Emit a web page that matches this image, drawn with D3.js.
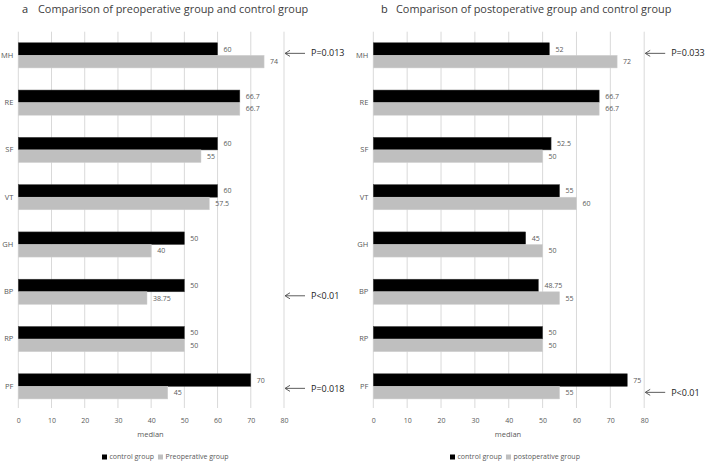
<!DOCTYPE html>
<html><head><meta charset="utf-8">
<script src="https://cdn.jsdelivr.net/npm/d3@7"></script>
<style>html,body{margin:0;padding:0;background:#fff;}svg{display:block;font-family:"Open Sans",sans-serif;}</style>
</head><body>
<svg id="c" width="709" height="463"></svg>
<script>
const categories = ["MH","RE","SF","VT","GH","BP","RP","PF"];
const xTicks = [0,10,20,30,40,50,60,70,80];
const leftControl = [60,66.7,60,60,50,50,50,70];
const leftPreop = [74,66.7,55,57.5,40,38.75,50,45];
const rightControl = [52,66.7,52.5,55,45,48.75,50,75];
const rightPostop = [72,66.7,50,60,50,55,50,55];
const leftAnnotations = [{cat:"MH",text:"P=0.013"},{cat:"BP",text:"P<0.01"},{cat:"PF",text:"P=0.018"}];
const rightAnnotations = [{cat:"MH",text:"P=0.033"},{cat:"PF",text:"P<0.01"}];
const panels = [
  {letter:"a", title:"Comparison of preoperative group and control group", s1:"control group", s2:"Preoperative group", v1:leftControl, v2:leftPreop, ann:leftAnnotations},
  {letter:"b", title:"Comparison of postoperative group and control group", s1:"control group", s2:"postoperative group", v1:rightControl, v2:rightPostop, ann:rightAnnotations}
];
const layout = [
  {x0:18.3, x1:284, letterX:22, titleX:38, legendX:102, medianX:150.5, annDy:{MH:-2,BP:4,PF:2}},
  {x0:373.3, x1:644.2, letterX:381, titleX:396, legendX:450, medianX:508, annDy:{MH:-2,PF:6}}
];
const svg = d3.select("#c");
const plotTop = 31.7, plotBottom = 408;
panels.forEach((p,i)=>{
  const L = layout[i];
  const g = svg.append("g");
  const x = d3.scaleLinear().domain([0,80]).range([L.x0,L.x1]);
  const y = d3.scaleBand().domain(categories).range([plotTop,410]).paddingInner(0.468).paddingOuter(0.234);
  const sub = d3.scaleBand().domain(["s1","s2"]).range([0,y.bandwidth()]);
  g.selectAll("line.grid").data(xTicks).join("line")
    .attr("x1",d=>x(d)).attr("x2",d=>x(d)).attr("y1",plotTop).attr("y2",plotBottom)
    .attr("stroke","#d9d9d9").attr("stroke-width",1);
  const xa = d3.axisBottom(x).tickValues(xTicks).tickSize(0).tickPadding(0);
  const ax = g.append("g").attr("transform",`translate(0,${plotBottom+10})`).call(xa);
  ax.select(".domain").remove();
  ax.selectAll("text").attr("fill","#595959").attr("font-size",7).attr("font-family","Open Sans, sans-serif");
  const ya = d3.axisLeft(y).tickSize(0).tickPadding(5);
  const ay = g.append("g").attr("transform",`translate(${L.x0},0)`).call(ya);
  ay.select(".domain").remove();
  ay.selectAll("text").attr("fill","#595959").attr("font-size",7.5).attr("font-family","Open Sans, sans-serif");
  const rows = categories.map((c,k)=>({c, v1:p.v1[k], v2:p.v2[k]}));
  const series = [{key:"s1", fill:"#000000", val:d=>d.v1},{key:"s2", fill:"#bfbfbf", val:d=>d.v2}];
  series.forEach(s=>{
    g.selectAll(null).data(rows).join("rect")
      .attr("x",x(0)).attr("y",d=>y(d.c)+sub(s.key))
      .attr("width",d=>x(s.val(d))-x(0)).attr("height",sub.bandwidth())
      .attr("fill",s.fill).attr("stroke", s.key==="s1" ? "#404040" : "#d0d0d0").attr("stroke-width",0.5);
    g.selectAll(null).data(rows).join("text")
      .attr("x",d=>x(s.val(d))+6).attr("y",d=>y(d.c)+sub(s.key)+sub.bandwidth()/2)
      .attr("dy","0.35em").attr("font-size",7).attr("fill","#595959")
      .text(d=>s.val(d));
  });
  p.ann.forEach(a=>{
    const yy = y(a.cat)+y.bandwidth()/2 + (L.annDy[a.cat]||0);
    const ax0 = x(80)+1, ax1 = ax0+20;
    g.append("line").attr("x1",ax0+1).attr("x2",ax1).attr("y1",yy).attr("y2",yy).attr("stroke","#333").attr("stroke-width",0.8);
    g.append("path").attr("d",`M${ax0+5},${yy-3}L${ax0},${yy}L${ax0+5},${yy+3}`).attr("fill","none").attr("stroke","#333").attr("stroke-width",0.8);
    g.append("text").attr("x",ax1+6).attr("y",yy).attr("dy","0.35em").attr("font-size",9).attr("fill","#222").text(a.text);
  });
  g.append("text").attr("x",L.letterX).attr("y",9).attr("dy","0.35em").attr("font-size",11).attr("fill","#333").text(p.letter);
  g.append("text").attr("x",L.titleX).attr("y",9).attr("dy","0.35em").attr("font-size",10.9).attr("fill","#404040").text(p.title);
  g.append("text").attr("x",L.medianX).attr("y",434).attr("dy","0.35em").attr("text-anchor","middle").attr("font-size",7.5).attr("fill","#595959").text("median");
  const lg = g.append("g").attr("transform",`translate(${L.legendX},457)`);
  lg.append("rect").attr("x",0).attr("y",-2.5).attr("width",5).attr("height",5).attr("fill","#000");
  const t1 = lg.append("text").attr("x",7.5).attr("y",0).attr("dy","0.35em").attr("font-size",7).attr("fill","#595959").text(p.s1);
  const w1 = t1.node().getComputedTextLength();
  lg.append("rect").attr("x",7.5+w1+4).attr("y",-2.5).attr("width",5).attr("height",5).attr("fill","#bfbfbf");
  lg.append("text").attr("x",7.5+w1+11.5).attr("y",0).attr("dy","0.35em").attr("font-size",7).attr("fill","#595959").text(p.s2);
});
</script>
</body></html>
